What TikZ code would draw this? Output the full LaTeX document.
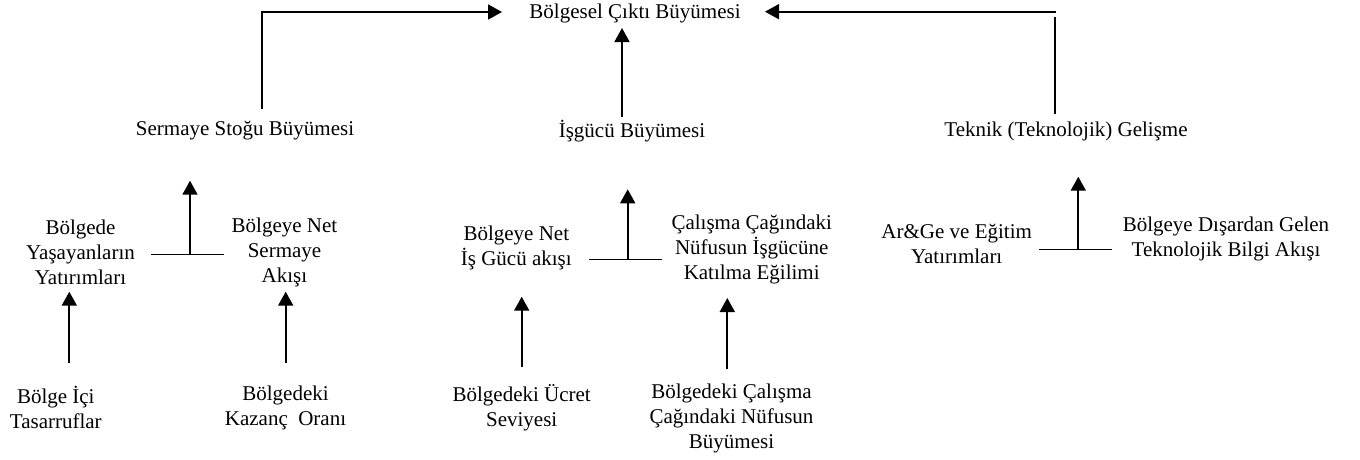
\documentclass[tikz,border=0pt]{standalone}
\usepackage{fontspec}
\setmainfont{Liberation Serif}
\usetikzlibrary{arrows.meta}
\begin{document}
\begin{tikzpicture}[x=1pt,y=-1pt,
  lbl/.style={inner sep=0pt,align=center,font=\fontsize{21}{25}\selectfont},
  arr/.style={line width=1.8pt,-{Triangle[width=15pt,length=14pt]}},
  ln/.style={line width=1.6pt}]
\useasboundingbox (0,0) rectangle (1360,459);

% top level
\node[lbl] (title) at (635,13) {Bölgesel Çıktı Büyümesi};

% second level
\node[lbl] (sermaye) at (245,131) {Sermaye Stoğu Büyümesi};
\node[lbl] (isgucu)  at (632,131) {İşgücü Büyümesi};
\node[lbl] (teknik)  at (1066,131) {Teknik (Teknolojik) Gelişme};

% third level
\node[lbl] (yatirim)  at (80.5,252) {Bölgede\\Yaşayanların\\Yatırımları};
\node[lbl] (sakisi)   at (284.5,252) {Bölgeye Net\\Sermaye\\Akışı};
\node[lbl] (iakisi)   at (516.3,248) {Bölgeye Net\\İş Gücü akışı};
\node[lbl] (katilma)  at (751.7,249) {Çalışma Çağındaki\\Nüfusun İşgücüne\\Katılma Eğilimi};
\node[lbl] (arge)     at (956.7,244) {Ar\&Ge ve Eğitim\\Yatırımları};
\node[lbl] (bilgi)    at (1226,239) {Bölgeye Dışardan Gelen\\Teknolojik Bilgi Akışı};

% fourth level
\node[lbl] (tasarruf) at (55.8,407.5) {Bölge İçi\\Tasarruflar};
\node[lbl] (kazanc)   at (285.5,407.5) {Bölgedeki\\Kazanç~~Oranı};
\node[lbl] (ucret)    at (521.7,407.5) {Bölgedeki Ücret\\Seviyesi};
\node[lbl] (nufus)    at (731.5,418) {Bölgedeki Çalışma\\Çağındaki Nüfusun\\Büyümesi};

% coordinates for connectors
\coordinate (sTop)  at (262,12);
\coordinate (sBot)  at (262,109);
\coordinate (tL)    at (502,12);
\coordinate (mTip)  at (622,28);
\coordinate (mBot)  at (622,117);
\coordinate (rBot)  at (1054.7,114.3);
\coordinate (rTop)  at (1054.7,17.3);
\coordinate (rCor)  at (1055.5,11.7);
\coordinate (tR)    at (765,11.7);

\coordinate (aL) at (151,254.3);   \coordinate (aR) at (224.3,254.3);
\coordinate (aJ) at (190,254.3);   \coordinate (aT) at (190,180.7);
\coordinate (bL) at (589.3,259.3); \coordinate (bR) at (662.3,259.3);
\coordinate (bJ) at (627.7,259.3); \coordinate (bT) at (627.7,189.3);
\coordinate (cL) at (1039.3,249.3);\coordinate (cR) at (1112.3,249.3);
\coordinate (cJ) at (1078.3,249.3);\coordinate (cT) at (1078.3,176.7);

\coordinate (d1B) at (69.3,362.7);  \coordinate (d1T) at (69.3,291.7);
\coordinate (d2B) at (285.7,362.7); \coordinate (d2T) at (285.7,291.7);
\coordinate (d3B) at (521.7,367.3); \coordinate (d3T) at (521.7,296.7);
\coordinate (d4B) at (727.3,369.3); \coordinate (d4T) at (727.3,298);

% top connectors
\draw[arr] (sBot) -- (sTop) -- (tL);
\draw[arr] (mBot) -- (mTip);
\draw[ln] (rBot) -- (rTop);
\draw[arr] (rCor) -- (tR);

% group junctions
\draw[ln] (aL) -- (aR);
\draw[arr] (aJ) -- (aT);
\draw[ln] (bL) -- (bR);
\draw[arr] (bJ) -- (bT);
\draw[ln] (cL) -- (cR);
\draw[arr] (cJ) -- (cT);

% bottom arrows
\draw[arr] (d1B) -- (d1T);
\draw[arr] (d2B) -- (d2T);
\draw[arr] (d3B) -- (d3T);
\draw[arr] (d4B) -- (d4T);
\end{tikzpicture}
\end{document}
